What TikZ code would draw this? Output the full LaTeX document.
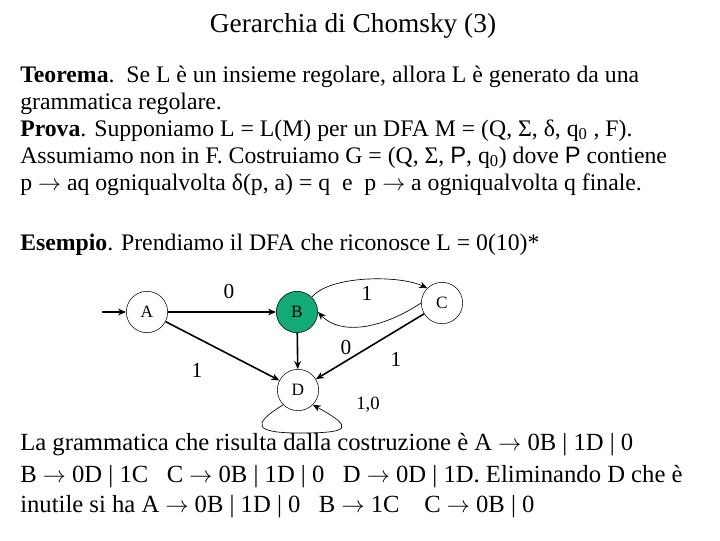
\documentclass[tikz,border=0pt]{standalone}
\usepackage{fontspec}
\setmainfont{Liberation Serif}
\newfontfamily\arial{Liberation Sans}
\usetikzlibrary{arrows.meta}
\definecolor{bfill}{RGB}{20,170,120}
\begin{document}
\begin{tikzpicture}[x=0.75pt,y=-0.75pt,
  txt/.style={anchor=base west,inner sep=0,font=\fontsize{17.8}{20}\selectfont},
  txtb/.style={anchor=base west,inner sep=0,font=\fontsize{18.5}{20}\selectfont},
  st/.style={circle,draw,thin,minimum size=31pt,inner sep=0,font=\fontsize{13}{14}\selectfont},
  lab/.style={font=\fontsize{16}{18}\selectfont,inner sep=0},
  ed/.style={-{Stealth[length=6pt,width=5pt]},line width=1.2pt},
  ed2/.style={-{Stealth[length=6pt,width=5pt]},line width=0.5pt}]
\useasboundingbox (0,0) rectangle (720,540);
\node[anchor=base,inner sep=0,font=\fontsize{20.5}{22}\selectfont] (title) at (353,32) {Gerarchia di Chomsky (3)};
\node[txt] (l1) at (20,82) {\textbf{Teorema}.\ \ Se L è un insieme regolare, allora L è generato da una};
\node[txt] (l2) at (20,109) {grammatica regolare.};
\node[txt] (l3) at (20,136) {\textbf{Prova}. Supponiamo L = L(M) per un DFA M = (Q, Σ, δ, q\textsubscript{0} , F).};
\node[txt] (l4) at (20,163) {Assumiamo non in F. Costruiamo G = (Q, Σ, {\arial P}, q\textsubscript{0}) dove {\arial P} contiene};
\node[txt] (l5) at (20,190) {p $\rightarrow$ aq ogniqualvolta δ(p, a) = q\ \ e\ \ p $\rightarrow$ a ogniqualvolta q finale.};
\node[txt] (l6) at (20,250) {\textbf{Esempio}. Prendiamo il DFA che riconosce L = 0(10)*};
\node[txtb] (l7) at (20,450) {La grammatica che risulta dalla costruzione è A $\rightarrow$ 0B | 1D | 0};
\node[txtb] (l8) at (20,482) {B $\rightarrow$ 0D | 1C\ \ \ C $\rightarrow$ 0B | 1D | 0\ \ \ D $\rightarrow$ 0D | 1D. Eliminando D che è};
\node[txtb] (l9) at (20,512) {inutile si ha A $\rightarrow$ 0B | 1D | 0\ \ \ B $\rightarrow$ 1C\ \ \ \ C $\rightarrow$ 0B | 0};
% automaton
\node[st] (A) at (147,312) {A};
\node[st,fill=bfill] (B) at (297,312) {B};
\node[st] (C) at (442,303) {C};
\node[st] (D) at (298,390) {D};
\coordinate (in) at (102,312);
\draw[ed] (in) -- (A);
\draw[ed] (A) -- (B);
\draw[ed] (A) -- (D);
\draw[ed] (B) -- (D);
\draw[ed] (C) -- (D);
\draw[ed2] (B.north east) .. controls (330,275) and (400,275) .. (C.north west);
\draw[ed2] (C.west) .. controls (380,330) and (340,335) .. (B.east);
\draw[ed2] (D.south west) .. controls (250,425) and (255,433) .. (300,433) .. controls (350,433) and (355,428) .. (D.south east);
\node[lab] (t1) at (229,292) {0};
\node[lab] (t2) at (367,293) {1};
\node[lab] (t3) at (346,347) {0};
\node[lab] (t4) at (197,370) {1};
\node[lab] (t5) at (396,359) {1};
\node[lab,font=\fontsize{14}{16}\selectfont] (t6) at (368,405) {1,0};
\end{tikzpicture}
\end{document}
